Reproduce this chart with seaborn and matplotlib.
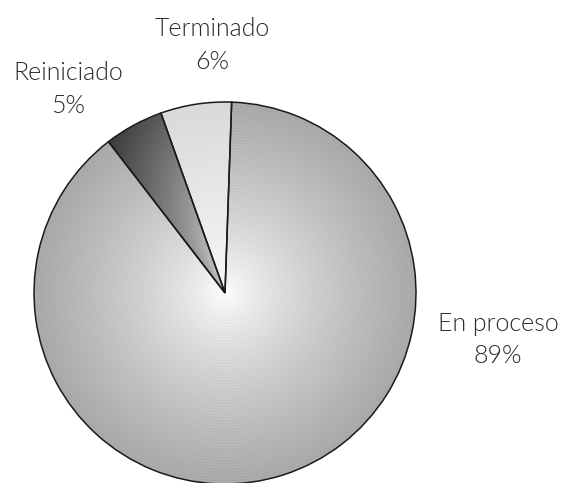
import numpy as np
import matplotlib
matplotlib.use("Agg")
import matplotlib.pyplot as plt
import seaborn as sns

# data
labels = ["Terminado", "Reiniciado", "En proceso"]
values = [6, 5, 89]

sns.set_style("white")
plt.rcParams['font.family'] = ['Lato', 'DejaVu Sans']

fig = plt.figure(figsize=(5.73, 4.83), dpi=100)
# pie centre at about (225, 293) px, radius about 191 px
ax = fig.add_axes([34 / 573, -1 / 483, 382 / 573, 382 / 483])

wedges, _ = ax.pie(values, startangle=88, counterclock=True, radius=1,
                   colors=["none"] * 3,
                   wedgeprops=dict(edgecolor="#1a1a1a", linewidth=1.1))
ax.set_xlim(-1, 1)
ax.set_ylim(-1, 1)
ax.set_aspect("equal")
ax.axis("off")

# grey shading for each wedge, clipped to the wedge shape
n = 800
xx, yy = np.meshgrid(np.linspace(-1, 1, n), np.linspace(-1, 1, n))
rr = np.sqrt(xx ** 2 + yy ** 2)
ang = np.degrees(np.arctan2(yy, xx)) % 360

shade_main = 1.0 - 0.34 * rr ** 0.75 + 0.02 * np.sin(rr * 420)
shade_light = 0.97 - 0.12 * rr
t = np.clip((ang - 110) / 18, 0, 1)
shade_dark = 0.8 - 0.45 * rr ** 1.2 - 0.12 * t
shades = [shade_light, shade_dark, shade_main]

for w, s in zip(wedges, shades):
    im = ax.imshow(np.clip(s, 0, 1), cmap="gray", vmin=0, vmax=1,
                   extent=(-1, 1, -1, 1), origin="lower", zorder=0,
                   interpolation="bilinear")
    im.set_clip_path(w)
    w.set_zorder(2)

txt = dict(ha="center", va="center", fontsize=18, color="#2b2b2b",
           fontweight=300, linespacing=1.45, clip_on=False)
ax.text(-0.068, 1.295, "Terminado\n6%", **txt)
ax.text(-0.82, 1.065, "Reiniciado\n5%", **txt)
ax.text(1.43, -0.245, "En proceso\n89%", **txt)

fig.savefig("out.png", dpi=100)
